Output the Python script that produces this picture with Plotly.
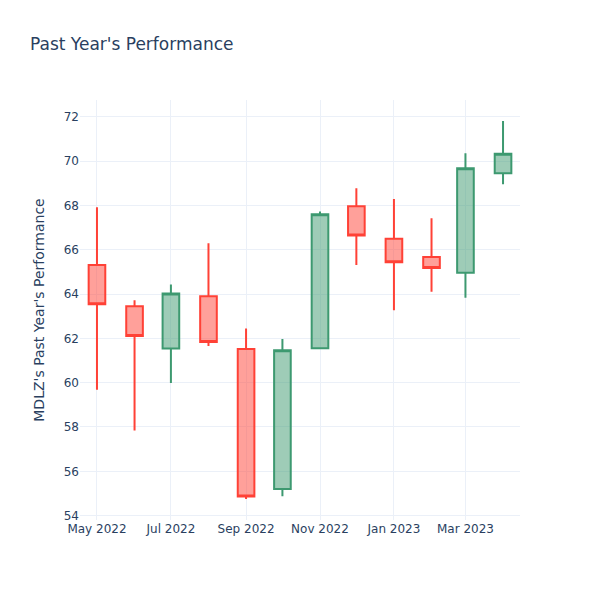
import plotly.graph_objects as go

dates = ["2022-05-01", "2022-06-01", "2022-07-01", "2022-08-01", "2022-09-01", "2022-10-01",
         "2022-11-01", "2022-12-01", "2023-01-01", "2023-02-01", "2023-03-01", "2023-04-01"]
opens = [65.31, 63.45, 61.54, 63.90, 61.52, 55.20, 61.55, 67.96, 66.50, 65.67, 64.96, 69.45]
highs = [67.92, 63.72, 64.43, 66.29, 62.44, 61.97, 67.72, 68.78, 68.29, 67.42, 70.36, 71.81]
lows = [59.68, 57.84, 59.98, 61.66, 54.75, 54.87, 61.55, 65.31, 63.27, 64.10, 63.83, 68.96]
closes = [63.54, 62.11, 64.03, 61.84, 54.86, 61.46, 67.60, 66.64, 65.43, 65.17, 69.68, 70.33]

fig = go.Figure(go.Candlestick(x=dates, open=opens, high=highs, low=lows, close=closes))
fig.update_layout(
    width=600, height=600,
    template="plotly",
    plot_bgcolor="white",
    font=dict(family="DejaVu Sans"),
    title=dict(text="Past Year's Performance"),
    yaxis_title="MDLZ's Past Year's Performance",
    xaxis_rangeslider_visible=False,
    xaxis=dict(gridcolor="#EBF0F8"),
    yaxis=dict(gridcolor="#EBF0F8"),
)
fig.write_html("out.html", config={"displayModeBar": False},
               post_script="document.body.style.margin='0';")
